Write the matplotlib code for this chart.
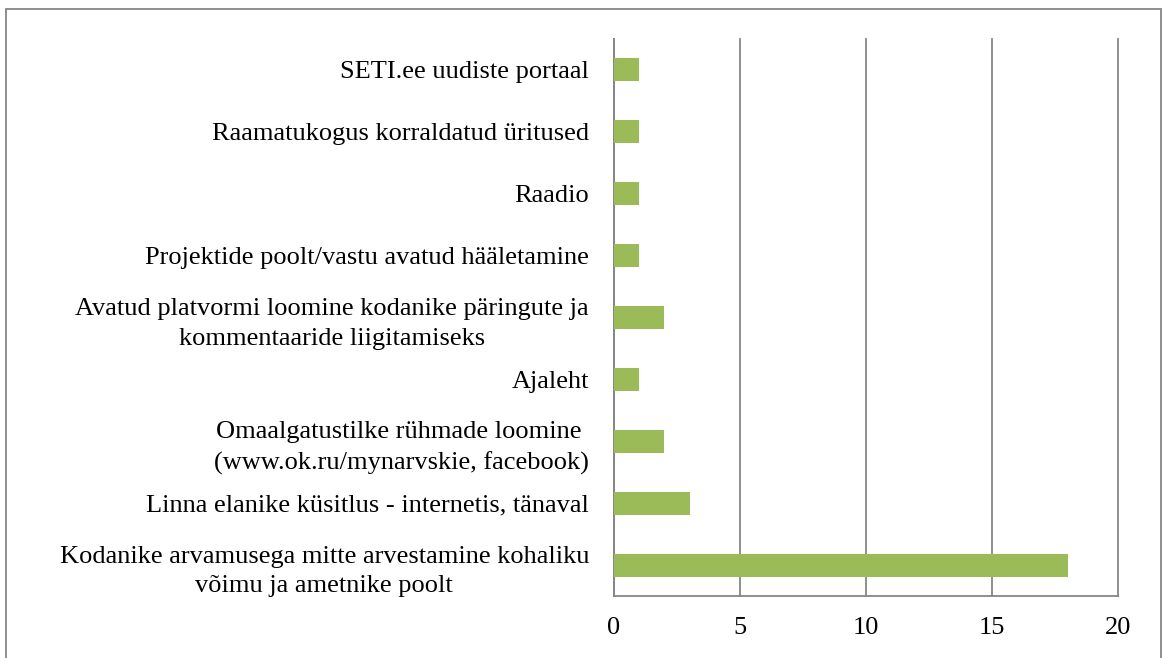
import matplotlib
matplotlib.use("Agg")
import matplotlib.pyplot as plt
from matplotlib.patches import Rectangle

categories = [
    "Kodanike arvamusega mitte arvestamine kohaliku\nvõimu ja ametnike poolt",
    "Linna elanike küsitlus - internetis, tänaval",
    "Omaalgatustilke rühmade loomine \n(www.ok.ru/mynarvskie, facebook)",
    "Ajaleht",
    "Avatud platvormi loomine kodanike päringute ja\nkommentaaride liigitamiseks",
    "Projektide poolt/vastu avatud hääletamine",
    "Raadio",
    "Raamatukogus korraldatud üritused",
    "SETI.ee uudiste portaal",
]
values = [18, 3, 2, 1, 2, 1, 1, 1, 1]
xticks = [0, 5, 10, 15, 20]

plt.rcParams['font.family'] = ['Liberation Serif', 'DejaVu Serif']

W, H = 1163, 658
fig = plt.figure(figsize=(W / 100, H / 100), dpi=100)
ax = fig.add_axes([614 / W, 1 - 596 / H, (1118 - 614) / W, (596 - 39) / H])

y = list(range(len(categories)))
ax.barh(y, values, height=0.37, color="#9BBB59", zorder=3)
ax.set_xlim(0, 20)
ax.set_ylim(-0.5, len(categories) - 0.5)
ax.set_xticks(xticks)
ax.set_xticklabels([str(t) for t in xticks], fontsize=19)
ax.set_yticks(y)
ax.set_yticklabels(categories, fontsize=19, linespacing=1.45, multialignment='center')
ax.tick_params(axis='both', length=0)
ax.tick_params(axis='y', pad=18)
ax.tick_params(axis='x', pad=15)
ax.grid(axis='x', color="#868686", linewidth=1.3, zorder=0)
for gl in ax.get_xgridlines():
    gl.set_clip_on(False)
for s in ['top', 'right']:
    ax.spines[s].set_visible(False)
for s in ['left', 'bottom']:
    ax.spines[s].set_color("#868686")
    ax.spines[s].set_linewidth(1.3)

fig.patches.append(Rectangle((6 / W, -0.01), (1161 - 6) / W, 1.01 - 9 / H,
                             transform=fig.transFigure, fill=False,
                             edgecolor="#868686", linewidth=1.3))

fig.savefig("out.png", dpi=100)
